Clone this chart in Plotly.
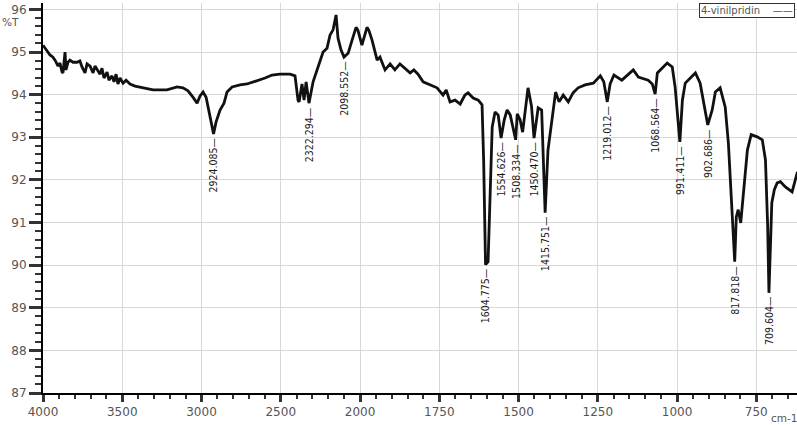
import numpy as np
import plotly.graph_objects as go

# ---- data ----
wavenumber = [4000, 3981, 3956, 3937, 3924, 3905, 3893, 3880, 3874, 3861, 3855, 3842, 3830, 3811,
              3785, 3767, 3754, 3735, 3722, 3703, 3684, 3672, 3659, 3640, 3628, 3615, 3596, 3584,
              3565, 3552, 3539, 3527, 3514, 3495, 3476, 3451, 3419, 3369, 3306, 3218, 3154, 3117,
              3085, 3054, 3028, 3009, 2990, 2971, 2953, 2924, 2908, 2883, 2858, 2839, 2807, 2757,
              2713, 2650, 2599, 2555, 2505, 2441, 2410, 2391, 2384, 2366, 2353, 2340, 2322, 2296,
              2265, 2233, 2208, 2189, 2170, 2151, 2139, 2120, 2101, 2075, 2050, 2025, 2013, 1994,
              1978, 1972, 1962, 1946, 1937, 1921, 1905, 1890, 1874, 1858, 1842, 1830, 1817, 1801,
              1779, 1757, 1738, 1728, 1716, 1700, 1684, 1669, 1659, 1643, 1627, 1615, 1610, 1607,
              1604, 1596, 1590, 1583, 1574, 1564, 1555, 1545, 1536, 1526, 1509, 1504, 1495, 1487,
              1470, 1459, 1451, 1438, 1427, 1416, 1407, 1394, 1383, 1372, 1359, 1343, 1328, 1312,
              1290, 1264, 1242, 1231, 1220, 1211, 1199, 1174, 1138, 1122, 1091, 1078, 1069, 1062,
              1043, 1031, 1015, 1006, 991, 983, 974, 942, 927, 911, 903, 889, 879, 864, 848, 838,
              826, 818, 813, 807, 799, 791, 778, 766, 747, 731, 721, 714, 710, 701, 693, 684, 674,
              659, 637, 620]
transmittance = [95.16, 95.05, 94.93, 94.88, 94.81, 94.67, 94.74, 94.53, 94.51, 95.00, 94.58, 94.76,
                 94.81, 94.76, 94.76, 94.79, 94.65, 94.51, 94.72, 94.67, 94.51, 94.67, 94.58, 94.48,
                 94.62, 94.39, 94.53, 94.34, 94.44, 94.30, 94.48, 94.25, 94.39, 94.27, 94.34, 94.25,
                 94.20, 94.16, 94.11, 94.11, 94.18, 94.16, 94.09, 93.94, 93.80, 93.97, 94.06, 93.94,
                 93.59, 93.08, 93.36, 93.64, 93.80, 94.06, 94.18, 94.23, 94.25, 94.32, 94.39, 94.46,
                 94.48, 94.48, 94.44, 93.87, 93.83, 94.25, 93.87, 94.30, 93.80, 94.30, 94.65, 95.00,
                 95.09, 95.40, 95.52, 95.87, 95.33, 95.05, 94.88, 94.97, 95.28, 95.58, 95.51, 95.16,
                 95.58, 95.51, 95.28, 94.81, 94.88, 94.58, 94.72, 94.58, 94.72, 94.62, 94.51, 94.58,
                 94.48, 94.30, 94.23, 94.16, 93.99, 94.11, 93.83, 93.87, 93.78, 93.99, 94.04, 93.92,
                 93.87, 93.76, 92.47, 90.60, 90.01, 90.08, 91.65, 93.24, 93.59, 93.52, 92.98, 93.41,
                 93.64, 93.52, 92.94, 93.55, 93.41, 93.12, 94.16, 93.73, 92.98, 93.69, 93.64, 91.23,
                 92.70, 93.48, 94.06, 93.83, 93.99, 93.83, 94.04, 94.16, 94.23, 94.27, 94.44, 94.30,
                 93.83, 94.25, 94.46, 94.34, 94.58, 94.41, 94.34, 94.25, 94.01, 94.51, 94.65, 94.74,
                 94.65, 94.18, 92.89, 93.87, 94.27, 94.51, 94.27, 93.64, 93.29, 93.64, 94.06, 94.16,
                 93.71, 92.87, 91.30, 90.08, 91.13, 91.30, 90.99, 91.70, 92.70, 93.06, 93.01, 92.94,
                 92.47, 90.90, 89.35, 91.46, 91.77, 91.93, 91.96, 91.84, 91.72, 92.19]

peak_labels = ["2924.085", "2322.294", "2098.552", "1604.775", "1554.626", "1508.334", "1450.470",
               "1415.751", "1219.012", "1068.564", "991.411", "902.686", "817.818", "709.604"]
peak_T = [93.08, 93.80, 94.88, 90.01, 92.98, 92.94, 92.98, 91.23, 93.83, 94.01, 92.89, 93.29,
          90.08, 89.35]

x_tick_labels = [4000, 3500, 3000, 2500, 2000, 1750, 1500, 1250, 1000, 750]
series_name = "4-vinilpridin"


# instrument axis: 500 cm-1 per division above 2000, 250 cm-1 per division below
def axis_pos(w):
    w = np.asarray(w, dtype=float)
    return np.where(w >= 2000, (4000 - w) / 500.0, 4 + (2000 - w) / 250.0)


LABEL_FONT = "DejaVu Sans"

fig = go.Figure()
fig.add_trace(go.Scatter(x=axis_pos(wavenumber), y=transmittance, mode="lines",
                         line=dict(color="#111111", width=2.8), name=series_name,
                         showlegend=False, hoverinfo="skip"))

for lab, t in zip(peak_labels, peak_T):
    fig.add_annotation(x=float(axis_pos(float(lab))), y=t - 0.04, text=lab + "\u2014",
                       textangle=-90, showarrow=False, xanchor="center", yanchor="top",
                       font=dict(family="DejaVu Sans Condensed, DejaVu Sans", size=10.5,
                                 color="#1a1a1a"))

alias = {str(int(p)): str(v) for p, v in zip(axis_pos(x_tick_labels), x_tick_labels)}
fig.update_layout(
    xaxis=dict(range=[0, 9.514], dtick=1, labelalias=alias, gridcolor="#d8d8d8",
               ticks="outside", ticklen=7, tickwidth=2.5, tickcolor="#333333",
               showline=True, linewidth=2, linecolor="black",
               tickfont=dict(family=LABEL_FONT, size=12, color="#555555"),
               minor=dict(dtick=0.2, ticks="outside", ticklen=4, tickwidth=2,
                          tickcolor="#333333")),
    yaxis=dict(range=[87, 96.15], dtick=1, gridcolor="#d8d8d8",
               ticks="outside", ticklen=12, tickwidth=2.5, tickcolor="#333333",
               showline=True, linewidth=2, linecolor="black",
               tickfont=dict(family=LABEL_FONT, size=12, color="#555555"),
               minor=dict(dtick=0.2, ticks="outside", ticklen=6, tickwidth=2,
                          tickcolor="#333333")),
    width=797, height=425, margin=dict(l=43, r=0, t=3, b=32), plot_bgcolor="white",
)

# axis unit labels
fig.add_annotation(xref="paper", yref="paper", x=-0.057, y=0.952, text="%T", showarrow=False,
                   xanchor="left", yanchor="middle",
                   font=dict(family=LABEL_FONT, size=10.5, color="#555555"))
fig.add_annotation(xref="paper", yref="paper", x=0.963, y=-0.065, text="cm-1", showarrow=False,
                   xanchor="left", yanchor="middle",
                   font=dict(family=LABEL_FONT, size=10.5, color="#555555"))

# legend box
fig.add_annotation(xref="paper", yref="paper", x=0.997, y=1.0, showarrow=False,
                   xanchor="right", yanchor="top",
                   text=series_name + "&nbsp;&nbsp;&nbsp;&nbsp;\u2014\u2014",
                   bordercolor="#333333", borderwidth=1, borderpad=1, bgcolor="white",
                   font=dict(family=LABEL_FONT, size=10, color="#555555"))

fig.write_html("out.html")
